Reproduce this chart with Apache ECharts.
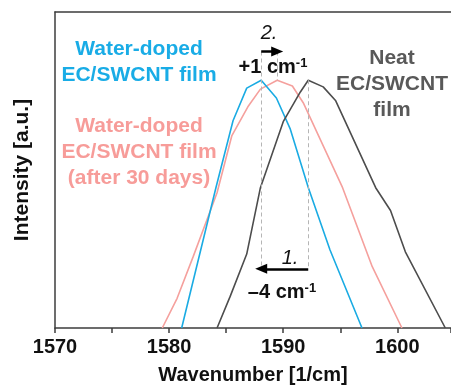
<!DOCTYPE html>
<html>
<head>
<meta charset="utf-8">
<script src="https://cdn.jsdelivr.net/npm/echarts@6/dist/echarts.min.js"></script>
<style>
  html, body { margin: 0; padding: 0; background: #fff; }
  #chart { width: 451px; height: 390px; }
</style>
</head>
<body>
<div id="chart"></div>
<script>
// spectra: [wavenumber, normalised intensity]
var waterDoped = [
  [1581.1, 0], [1584.1, 0.444], [1585.6, 0.656], [1586.8, 0.759], [1588.07, 0.784],
  [1589.4, 0.728], [1590.6, 0.631], [1592.2, 0.444], [1594.1, 0.247], [1596.9, 0]
];
var waterDoped30 = [
  [1579.4, 0], [1580.7, 0.094], [1582.1, 0.225], [1584.2, 0.428], [1585.5, 0.609],
  [1586.9, 0.70], [1588.0, 0.756], [1589.47, 0.784], [1590.8, 0.766], [1591.75, 0.713],
  [1595.2, 0.444], [1597.8, 0.194], [1600.4, 0]
];
var neat = [
  [1584.2, 0], [1585.35, 0.10], [1586.8, 0.234], [1588.0, 0.444], [1590.0, 0.653],
  [1591.5, 0.747], [1592.19, 0.784], [1593.5, 0.763], [1594.6, 0.719], [1598.1, 0.444],
  [1599.4, 0.372], [1600.7, 0.241], [1604.2, 0]
];
var peakWater = 1588.07;
var peakWater30 = 1589.47;
var peakNeat = 1592.19;
var arrow1Y = 0.1875;
var arrow2Y = 0.875;

var font = '"Liberation Sans", Arial, sans-serif';
var axisColor = '#3c3c3c';

var dom = document.getElementById('chart');
var myChart = echarts.init(dom, null, { renderer: 'canvas' });

var dashStyle = { color: '#b5b5b5', type: [4, 3], width: 1 };
var arrowStyle = { color: '#000', type: 'solid', width: 2.5 };

var option = {
  animation: false,
  textStyle: { fontFamily: font },
  grid: { left: 55, top: 12, right: 0, bottom: 58 },
  xAxis: [
    {
      type: 'value',
      min: 1570,
      max: 1604.7,
      interval: 10,
      name: 'Wavenumber [1/cm]',
      nameLocation: 'middle',
      nameGap: 37,
      nameTextStyle: { fontSize: 20, fontWeight: 'bold', color: '#111', fontFamily: font },
      axisLine: { lineStyle: { color: axisColor, width: 1.5 } },
      axisTick: { inside: false, length: 5, lineStyle: { color: axisColor, width: 1.5 } },
      minorTick: { show: true, splitNumber: 2, length: 5, lineStyle: { color: axisColor, width: 1.5 } },
      axisLabel: { fontSize: 20, fontWeight: 'bold', color: '#111', margin: 9, fontFamily: font,
        showMaxLabel: false,
        formatter: function (v) { return String(v); } },
      splitLine: { show: false }
    },
    {
      type: 'value',
      position: 'top',
      min: 1570,
      max: 1604.7,
      axisLine: { lineStyle: { color: axisColor, width: 1.5 } },
      axisTick: { show: false },
      axisLabel: { show: false },
      splitLine: { show: false }
    }
  ],
  yAxis: {
    type: 'value',
    min: 0,
    max: 1,
    name: 'Intensity [a.u.]',
    nameLocation: 'middle',
    nameGap: 22,
    nameTextStyle: { fontSize: 21, fontWeight: 'bold', color: '#111', fontFamily: font },
    axisLine: { show: true, lineStyle: { color: axisColor, width: 1.5 } },
    axisTick: { show: false },
    axisLabel: { show: false },
    splitLine: { show: false }
  },
  series: [
    {
      name: 'Water-doped EC/SWCNT film (after 30 days)',
      type: 'line',
      data: waterDoped30,
      showSymbol: false,
      lineStyle: { color: '#f5a09d', width: 1.6 },
      markLine: {
        silent: true, symbol: 'none', label: { show: false },
        lineStyle: dashStyle,
        data: [[{ coord: [peakWater30, arrow2Y] }, { coord: [peakWater30, 0.784] }]]
      }
    },
    {
      name: 'Water-doped EC/SWCNT film',
      type: 'line',
      data: waterDoped,
      showSymbol: false,
      lineStyle: { color: '#1aabe3', width: 1.6 },
      markLine: {
        silent: true, symbol: 'none', label: { show: false },
        lineStyle: dashStyle,
        data: [[{ coord: [peakWater, arrow2Y] }, { coord: [peakWater, arrow1Y] }]]
      }
    },
    {
      name: 'Neat EC/SWCNT film',
      type: 'line',
      data: neat,
      showSymbol: false,
      lineStyle: { color: '#4d4d4d', width: 1.6 },
      markLine: {
        silent: true, symbol: 'none', label: { show: false },
        lineStyle: dashStyle,
        data: [[{ coord: [peakNeat, 0.784] }, { coord: [peakNeat, arrow1Y] }]]
      }
    },
    {
      // arrows for the peak shifts
      type: 'line',
      data: [],
      markLine: {
        silent: true,
        symbol: ['none', 'triangle'],
        symbolSize: [10, 12],
        label: { show: false },
        lineStyle: arrowStyle,
        data: [
          [{ coord: [peakNeat, arrow1Y] }, { coord: [peakWater, arrow1Y] }],
          [{ coord: [peakWater, arrow2Y] }, { coord: [peakWater30, arrow2Y] }]
        ]
      }
    }
  ],
  graphic: [
    { type: 'text', x: 139, y: 62, style: { text: 'Water-doped\nEC/SWCNT film', fill: '#19ace6',
      font: 'bold 21px ' + font, align: 'center', verticalAlign: 'middle', lineHeight: 26 }, silent: true },
    { type: 'text', x: 139, y: 152, style: { text: 'Water-doped\nEC/SWCNT film\n(after 30 days)', fill: '#f79c99',
      font: 'bold 21px ' + font, align: 'center', verticalAlign: 'middle', lineHeight: 26 }, silent: true },
    { type: 'text', x: 392, y: 84, style: { text: 'Neat\nEC/SWCNT\nfilm', fill: '#595959',
      font: 'bold 21px ' + font, align: 'center', verticalAlign: 'middle', lineHeight: 26 }, silent: true },
    { type: 'text', x: 269, y: 33, style: { text: '2.', fill: '#111',
      font: 'italic 20px ' + font, align: 'center', verticalAlign: 'middle' }, silent: true },
    { type: 'text', x: 273, y: 67, style: { text: '{b|+1 cm}{s|-1}', align: 'center', verticalAlign: 'middle',
      rich: { b: { font: 'bold 20px ' + font, fill: '#111' }, s: { font: 'bold 13px ' + font, fill: '#111', verticalAlign: 'top', padding: [0, 0, 8, 0] } } }, silent: true },
    { type: 'text', x: 290, y: 258, style: { text: '1.', fill: '#111',
      font: 'italic 20px ' + font, align: 'center', verticalAlign: 'middle' }, silent: true },
    { type: 'text', x: 282, y: 292, style: { text: '{b|\u20134 cm}{s|-1}', align: 'center', verticalAlign: 'middle',
      rich: { b: { font: 'bold 20px ' + font, fill: '#111' }, s: { font: 'bold 13px ' + font, fill: '#111', verticalAlign: 'top', padding: [0, 0, 8, 0] } } }, silent: true }
  ]
};

myChart.setOption(option);
window.addEventListener('resize', myChart.resize);
</script>
</body>
</html>
